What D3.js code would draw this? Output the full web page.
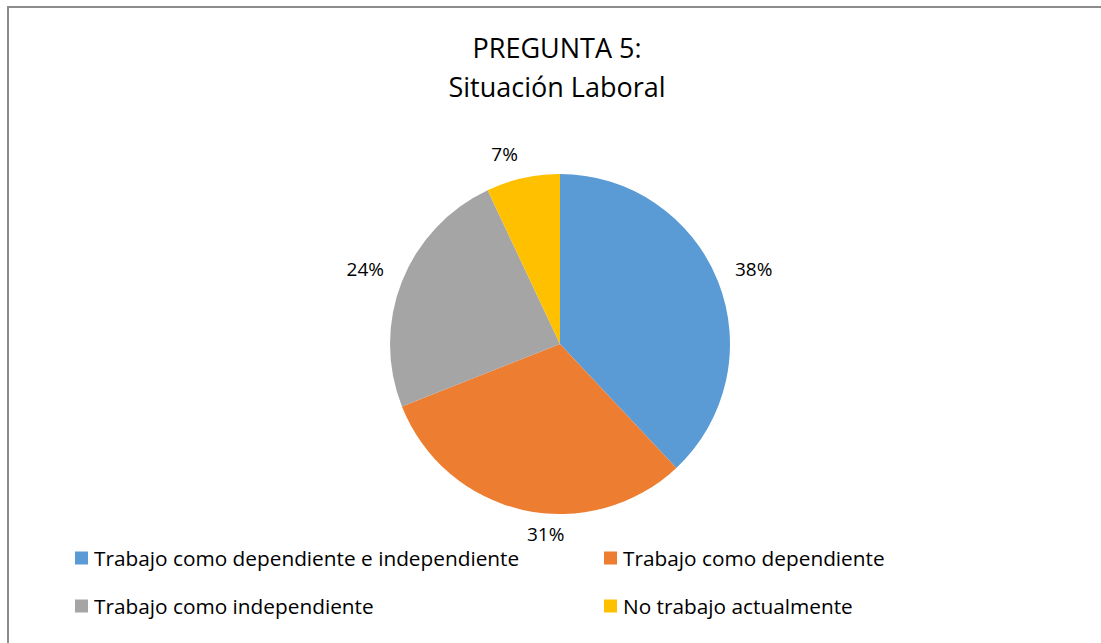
<!DOCTYPE html>
<html>
<head>
<meta charset="utf-8">
<script src="https://cdn.jsdelivr.net/npm/d3@7"></script>
<style>
  body { margin: 0; background: #fff; }
  text { font-family: "Open Sans", Lato, sans-serif; fill: #000; }
</style>
</head>
<body>
<div id="chart"></div>
<script>
// Chart data
const categories = [
    "Trabajo como dependiente e independiente",
    "Trabajo como dependiente",
    "Trabajo como independiente",
    "No trabajo actualmente"
];
const values = [38, 31, 24, 7];
const colors = ["#5B9BD5", "#ED7D31", "#A5A5A5", "#FFC000"];
const titleLines = ["PREGUNTA 5:", "Situación Laboral"];

const width = 1101, height = 643;
const cx = 560, cy = 344, radius = 170;

const svg = d3.select("#chart")
    .append("svg")
    .attr("width", width)
    .attr("height", height);

// Chart border
svg.append("rect")
    .attr("x", 8)
    .attr("y", 7)
    .attr("width", width + 20)
    .attr("height", height + 20)
    .attr("fill", "#fff")
    .attr("stroke", "#8c8c8c")
    .attr("stroke-width", 2);

// Title
svg.append("text")
    .attr("x", 557)
    .attr("y", 58)
    .attr("text-anchor", "middle")
    .style("font-size", "27px")
    .selectAll("tspan")
    .data(titleLines)
    .enter().append("tspan")
    .attr("x", 557)
    .attr("dy", (d, i) => i === 0 ? 0 : 39)
    .text(d => d);

const pie = d3.pie().sort(null).value(d => d)(values);
const arc = d3.arc().innerRadius(0).outerRadius(radius);

const g = svg.append("g")
    .attr("transform", `translate(${cx},${cy})`);

g.selectAll("path")
    .data(pie)
    .enter().append("path")
    .attr("d", arc)
    .attr("fill", (d, i) => colors[i]);

// Outside labels (best-fit style, small horizontal nudges like Excel)
const gap = 15;
const labelNudge = [3, 28, -4, -13];
g.selectAll(".lbl")
    .data(pie)
    .enter().append("text")
    .attr("class", "lbl")
    .style("font-size", "19px")
    .attr("text-anchor", "middle")
    .attr("dominant-baseline", "central")
    .text(d => d.data + "%")
    .each(function(d, i) {
        const a = (d.startAngle + d.endAngle) / 2;
        const dx = Math.sin(a), dy = -Math.cos(a);
        const bb = this.getBBox();
        const hw = bb.width / 2, hh = 9;
        const ext = Math.min(Math.abs(dx) > 1e-6 ? hw / Math.abs(dx) : Infinity,
                             Math.abs(dy) > 1e-6 ? hh / Math.abs(dy) : Infinity);
        const r = radius + gap + ext;
        d3.select(this).attr("x", dx * r + labelNudge[i]).attr("y", dy * r);
    });

// Legend
const legendX = [75, 604];
const legendY = [558, 606];
const legend = svg.selectAll(".legend")
    .data(categories)
    .enter().append("g")
    .attr("class", "legend")
    .attr("transform", (d, i) => `translate(${legendX[i % 2]},${legendY[Math.floor(i / 2)]})`);

legend.append("rect")
    .attr("x", 0)
    .attr("y", -6.5)
    .attr("width", 13)
    .attr("height", 13)
    .attr("fill", (d, i) => colors[i]);

legend.append("text")
    .attr("x", 19)
    .attr("y", 0)
    .attr("dominant-baseline", "central")
    .style("font-size", "20.8px")
    .text(d => d);
</script>
</body>
</html>
